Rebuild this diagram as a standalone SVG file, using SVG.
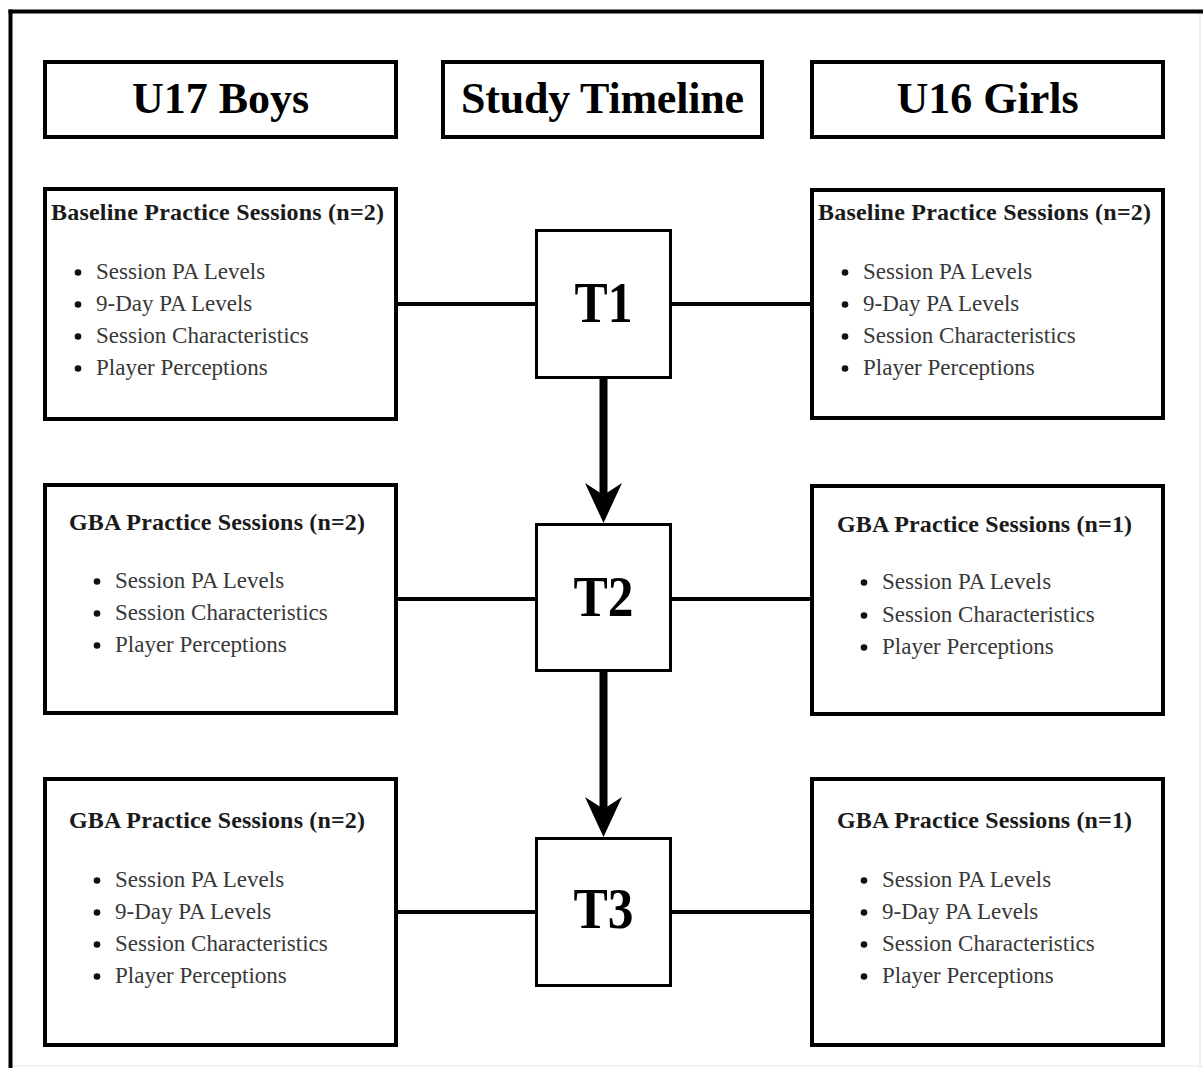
<svg xmlns="http://www.w3.org/2000/svg" width="1203" height="1068" viewBox="0 0 1203 1068">
  <style>
    .box { fill: #fff; stroke: #000; stroke-width: 4; }
    .tbox { fill: #fff; stroke: #000; stroke-width: 3; }
    .link { stroke: #000; stroke-width: 4; fill: none; }
    .flow { stroke: #000; stroke-width: 8; fill: none; }
    .head { font-family: "Liberation Serif", "DejaVu Serif", serif; font-weight: bold; font-size: 44px; fill: #000; text-anchor: middle; }
    .tlabel { font-family: "Liberation Serif", "DejaVu Serif", serif; font-weight: bold; font-size: 56px; fill: #000; text-anchor: middle; }
    .title { font-family: "Liberation Serif", "DejaVu Serif", serif; font-weight: bold; font-size: 24px; fill: #1a1a1a; }
    .item { font-family: "Liberation Serif", "DejaVu Serif", serif; font-size: 23px; fill: #383838; }
    .dot { fill: #111; }
  </style>
  <defs>
    <marker id="arrowhead" markerUnits="userSpaceOnUse" viewBox="0 0 40 37" refX="28" refY="18.5" markerWidth="40" markerHeight="37" orient="auto">
      <path d="M0,0 L40,18.5 L0,37 L12,18.5 Z" fill="#000"/>
    </marker>
  </defs>

  <rect x="0" y="0" width="1203" height="1068" fill="#fff"/>

  <!-- page frame -->
  <g id="frame">
    <line x1="1200" y1="12" x2="1200" y2="1068" stroke="#ececec" stroke-width="1.5"/>
    <line x1="10" y1="1066" x2="1203" y2="1066" stroke="#ececec" stroke-width="1.5"/>
    <line x1="8.5" y1="11.5" x2="1203" y2="11.5" stroke="#000" stroke-width="4"/>
    <line x1="10.5" y1="9.5" x2="10.5" y2="1068" stroke="#000" stroke-width="4"/>
  </g>

  <!-- connectors -->
  <g id="connectors">
    <line class="link" x1="398" y1="304" x2="535" y2="304"/>
    <line class="link" x1="672" y1="304" x2="811" y2="304"/>
    <line class="link" x1="398" y1="599" x2="535" y2="599"/>
    <line class="link" x1="672" y1="599" x2="811" y2="599"/>
    <line class="link" x1="398" y1="912" x2="535" y2="912"/>
    <line class="link" x1="672" y1="912" x2="811" y2="912"/>
    <line class="flow" x1="603.5" y1="379" x2="603.5" y2="511" marker-end="url(#arrowhead)"/>
    <line class="flow" x1="603.5" y1="672" x2="603.5" y2="825" marker-end="url(#arrowhead)"/>
  </g>

  <!-- column headers -->
  <g id="hdr-boys">
    <rect class="box" x="45" y="62" width="351" height="75"/>
    <text class="head" x="220.5" y="113">U17 Boys</text>
  </g>
  <g id="hdr-timeline">
    <rect class="box" x="443" y="62" width="319" height="75"/>
    <text class="head" x="602.5" y="113" textLength="283">Study Timeline</text>
  </g>
  <g id="hdr-girls">
    <rect class="box" x="812" y="62" width="351" height="75"/>
    <text class="head" x="987.5" y="113">U16 Girls</text>
  </g>

  <!-- timepoints -->
  <g id="t1">
    <rect class="tbox" x="536.5" y="230.5" width="134" height="147"/>
    <text class="tlabel" x="603.5" y="322" textLength="58" lengthAdjust="spacingAndGlyphs">T1</text>
  </g>
  <g id="t2">
    <rect class="tbox" x="536.5" y="524.5" width="134" height="146"/>
    <text class="tlabel" x="603.5" y="616" textLength="60" lengthAdjust="spacingAndGlyphs">T2</text>
  </g>
  <g id="t3">
    <rect class="tbox" x="536.5" y="838.5" width="134" height="147"/>
    <text class="tlabel" x="603.5" y="928" textLength="60" lengthAdjust="spacingAndGlyphs">T3</text>
  </g>

  <!-- boys, baseline -->
  <g id="boys-baseline">
    <rect class="box" x="45" y="189" width="351" height="230"/>
    <text class="title" x="51" y="220" textLength="333">Baseline Practice Sessions (n=2)</text>
    <circle class="dot" cx="78" cy="272.5" r="3.3"/><text class="item" x="96" y="279">Session PA Levels</text>
    <circle class="dot" cx="78" cy="304.5" r="3.3"/><text class="item" x="96" y="311">9-Day PA Levels</text>
    <circle class="dot" cx="78" cy="336.5" r="3.3"/><text class="item" x="96" y="343">Session Characteristics</text>
    <circle class="dot" cx="78" cy="368.5" r="3.3"/><text class="item" x="96" y="375">Player Perceptions</text>
  </g>

  <!-- girls, baseline -->
  <g id="girls-baseline">
    <rect class="box" x="812" y="190" width="351" height="228"/>
    <text class="title" x="818" y="220" textLength="333">Baseline Practice Sessions (n=2)</text>
    <circle class="dot" cx="845" cy="272.5" r="3.3"/><text class="item" x="863" y="279">Session PA Levels</text>
    <circle class="dot" cx="845" cy="304.5" r="3.3"/><text class="item" x="863" y="311">9-Day PA Levels</text>
    <circle class="dot" cx="845" cy="336.5" r="3.3"/><text class="item" x="863" y="343">Session Characteristics</text>
    <circle class="dot" cx="845" cy="368.5" r="3.3"/><text class="item" x="863" y="375">Player Perceptions</text>
  </g>

  <!-- boys, GBA at T2 -->
  <g id="boys-gba-t2">
    <rect class="box" x="45" y="485" width="351" height="228"/>
    <text class="title" x="69" y="530" textLength="296">GBA Practice Sessions (n=2)</text>
    <circle class="dot" cx="97" cy="581.5" r="3.3"/><text class="item" x="115" y="588">Session PA Levels</text>
    <circle class="dot" cx="97" cy="613.5" r="3.3"/><text class="item" x="115" y="620">Session Characteristics</text>
    <circle class="dot" cx="97" cy="645.5" r="3.3"/><text class="item" x="115" y="652">Player Perceptions</text>
  </g>

  <!-- girls, GBA at T2 -->
  <g id="girls-gba-t2">
    <rect class="box" x="812" y="486" width="351" height="228"/>
    <text class="title" x="837" y="532" textLength="295">GBA Practice Sessions (n=1)</text>
    <circle class="dot" cx="864" cy="582.5" r="3.3"/><text class="item" x="882" y="589">Session PA Levels</text>
    <circle class="dot" cx="864" cy="615.5" r="3.3"/><text class="item" x="882" y="622">Session Characteristics</text>
    <circle class="dot" cx="864" cy="647.5" r="3.3"/><text class="item" x="882" y="654">Player Perceptions</text>
  </g>

  <!-- boys, GBA at T3 -->
  <g id="boys-gba-t3">
    <rect class="box" x="45" y="779" width="351" height="266"/>
    <text class="title" x="69" y="828" textLength="296">GBA Practice Sessions (n=2)</text>
    <circle class="dot" cx="97" cy="880.5" r="3.3"/><text class="item" x="115" y="887">Session PA Levels</text>
    <circle class="dot" cx="97" cy="912.5" r="3.3"/><text class="item" x="115" y="919">9-Day PA Levels</text>
    <circle class="dot" cx="97" cy="944.5" r="3.3"/><text class="item" x="115" y="951">Session Characteristics</text>
    <circle class="dot" cx="97" cy="976.5" r="3.3"/><text class="item" x="115" y="983">Player Perceptions</text>
  </g>

  <!-- girls, GBA at T3 -->
  <g id="girls-gba-t3">
    <rect class="box" x="812" y="779" width="351" height="266"/>
    <text class="title" x="837" y="828" textLength="295">GBA Practice Sessions (n=1)</text>
    <circle class="dot" cx="864" cy="880.5" r="3.3"/><text class="item" x="882" y="887">Session PA Levels</text>
    <circle class="dot" cx="864" cy="912.5" r="3.3"/><text class="item" x="882" y="919">9-Day PA Levels</text>
    <circle class="dot" cx="864" cy="944.5" r="3.3"/><text class="item" x="882" y="951">Session Characteristics</text>
    <circle class="dot" cx="864" cy="976.5" r="3.3"/><text class="item" x="882" y="983">Player Perceptions</text>
  </g>
</svg>
